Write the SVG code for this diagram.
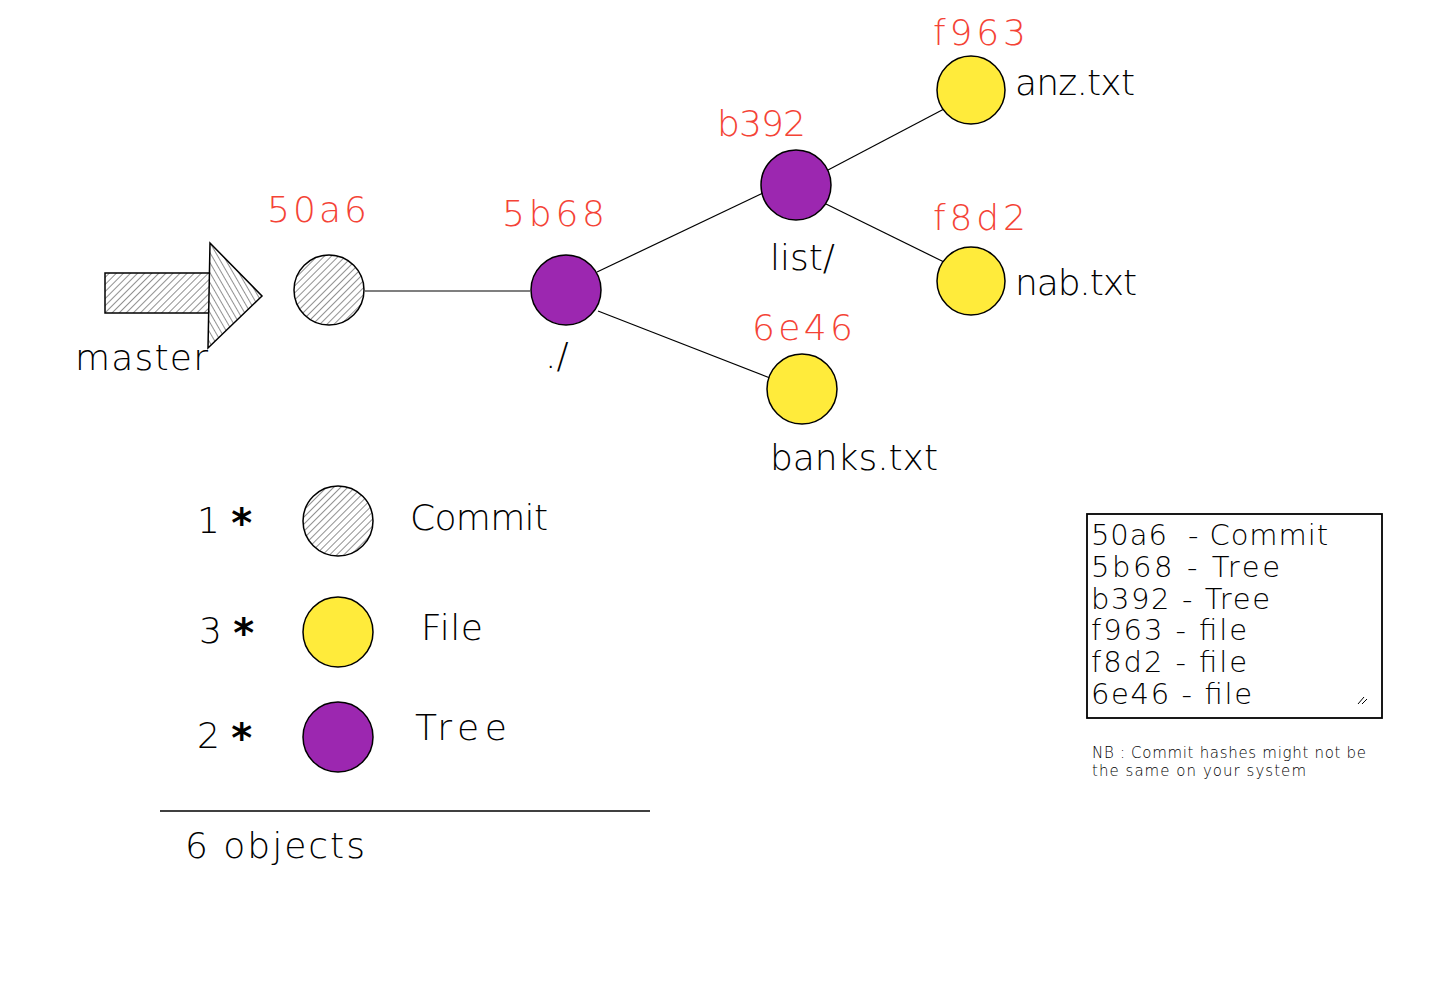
<svg xmlns="http://www.w3.org/2000/svg" width="1433" height="986" viewBox="0 0 1433 986">
<defs>
<pattern id="hatch" patternUnits="userSpaceOnUse" width="5" height="5" patternTransform="rotate(45)">
<rect width="5" height="5" fill="#ffffff"/>
<line x1="0" y1="0" x2="0" y2="5" stroke="#555" stroke-width="1.3"/>
</pattern>
<pattern id="hatch2" patternUnits="userSpaceOnUse" width="5" height="5" patternTransform="rotate(-30)">
<rect width="5" height="5" fill="#ffffff"/>
<line x1="0" y1="0" x2="0" y2="5" stroke="#555" stroke-width="1.3"/>
</pattern>
<style>
text{font-family:"DejaVu Sans","Liberation Sans",sans-serif;font-weight:200}
.hash{font-size:36px;fill:#f44336}
.lbl{font-size:36px;fill:#000}
.box{font-size:29px;fill:#000}
.nb{font-size:15px;fill:#000}
.star{font-weight:bold;font-size:40px}
.tree{fill:#9c27b0;stroke:#000;stroke-width:1.5}
.file{fill:#ffeb3b;stroke:#000;stroke-width:1.5}
.commit{fill:url(#hatch);stroke:#000;stroke-width:1.5}
.edge{stroke:#000;stroke-width:1.2;fill:none}
</style>
</defs>
<rect width="1433" height="986" fill="#ffffff"/>

<g id="connectors">
<line class="edge" x1="365" y1="291" x2="530" y2="291"/>
<line class="edge" x1="597" y1="272" x2="763" y2="193"/>
<line class="edge" x1="598" y1="311" x2="770" y2="378"/>
<line class="edge" x1="828" y1="170" x2="944" y2="109"/>
<line class="edge" x1="826" y1="204" x2="944" y2="262"/>
</g>

<g id="master">
<rect x="105" y="273" width="105" height="40" fill="url(#hatch)" stroke="#000" stroke-width="1.5"/>
<polygon points="210,243 262,296 208,348" fill="url(#hatch2)" stroke="#000" stroke-width="1.5"/>
<text class="lbl" x="75" y="370" textLength="133">master</text>
</g>

<g id="node-50a6">
<circle class="commit" cx="329" cy="290" r="35"/>
<text class="hash" x="267" y="222" textLength="100">50a6</text>
</g>

<g id="node-5b68">
<circle class="tree" cx="566" cy="290" r="35"/>
<text class="hash" x="502" y="226" textLength="103">5b68</text>
<text class="lbl" x="545" y="368">./</text>
</g>

<g id="node-b392">
<circle class="tree" cx="796" cy="185" r="35"/>
<text class="hash" x="717" y="136" textLength="89">b392</text>
<text class="lbl" x="770" y="270" textLength="65">list/</text>
</g>

<g id="node-f963">
<circle class="file" cx="971" cy="90" r="34"/>
<text class="hash" x="933" y="45" textLength="93">f963</text>
<text class="lbl" x="1015" y="95" textLength="120">anz.txt</text>
</g>

<g id="node-f8d2">
<circle class="file" cx="971" cy="281" r="34"/>
<text class="hash" x="933" y="230" textLength="93">f8d2</text>
<text class="lbl" x="1015" y="295" textLength="122">nab.txt</text>
</g>

<g id="node-6e46">
<circle class="file" cx="802" cy="389" r="35"/>
<text class="hash" x="752" y="340" textLength="101">6e46</text>
<text class="lbl" x="770" y="470" textLength="168">banks.txt</text>
</g>

<g id="legend-commit">
<text class="lbl" x="197" y="533">1 <tspan class="star" dy="4">*</tspan></text>
<circle class="commit" cx="338" cy="521" r="35"/>
<text class="lbl" x="410" y="530" textLength="138">Commit</text>
</g>
<g id="legend-file">
<text class="lbl" x="199" y="643">3 <tspan class="star" dy="4">*</tspan></text>
<circle class="file" cx="338" cy="632" r="35"/>
<text class="lbl" x="421" y="640" textLength="62">File</text>
</g>
<g id="legend-tree">
<text class="lbl" x="197" y="748">2 <tspan class="star" dy="4">*</tspan></text>
<circle class="tree" cx="338" cy="737" r="35"/>
<text class="lbl" x="415" y="740" textLength="92">Tree</text>
</g>

<g id="total">
<line x1="160" y1="811" x2="650" y2="811" stroke="#000" stroke-width="1.5"/>
<text class="lbl" x="185" y="858" textLength="180">6 objects</text>
</g>

<g id="hash-box">
<rect x="1087" y="514" width="295" height="204" fill="#ffffff" stroke="#000" stroke-width="1.8"/>
<text class="box" x="1091" y="545" textLength="237" xml:space="preserve">50a6  - Commit</text>
<text class="box" x="1091" y="577" textLength="189">5b68 - Tree</text>
<text class="box" x="1091" y="609" textLength="179">b392 - Tree</text>
<text class="box" x="1091" y="640" textLength="156">f963 - file</text>
<text class="box" x="1091" y="672" textLength="156">f8d2 - file</text>
<text class="box" x="1091" y="704" textLength="161">6e46 - file</text>
<line x1="1358" y1="704" x2="1364" y2="697" stroke="#000" stroke-width="1"/>
<line x1="1362" y1="704" x2="1367" y2="699" stroke="#000" stroke-width="1"/>
</g>

<g id="note">
<text class="nb" x="1092" y="758" textLength="274">NB : Commit hashes might not be</text>
<text class="nb" x="1092" y="776" textLength="214">the same on your system</text>
</g>
</svg>
